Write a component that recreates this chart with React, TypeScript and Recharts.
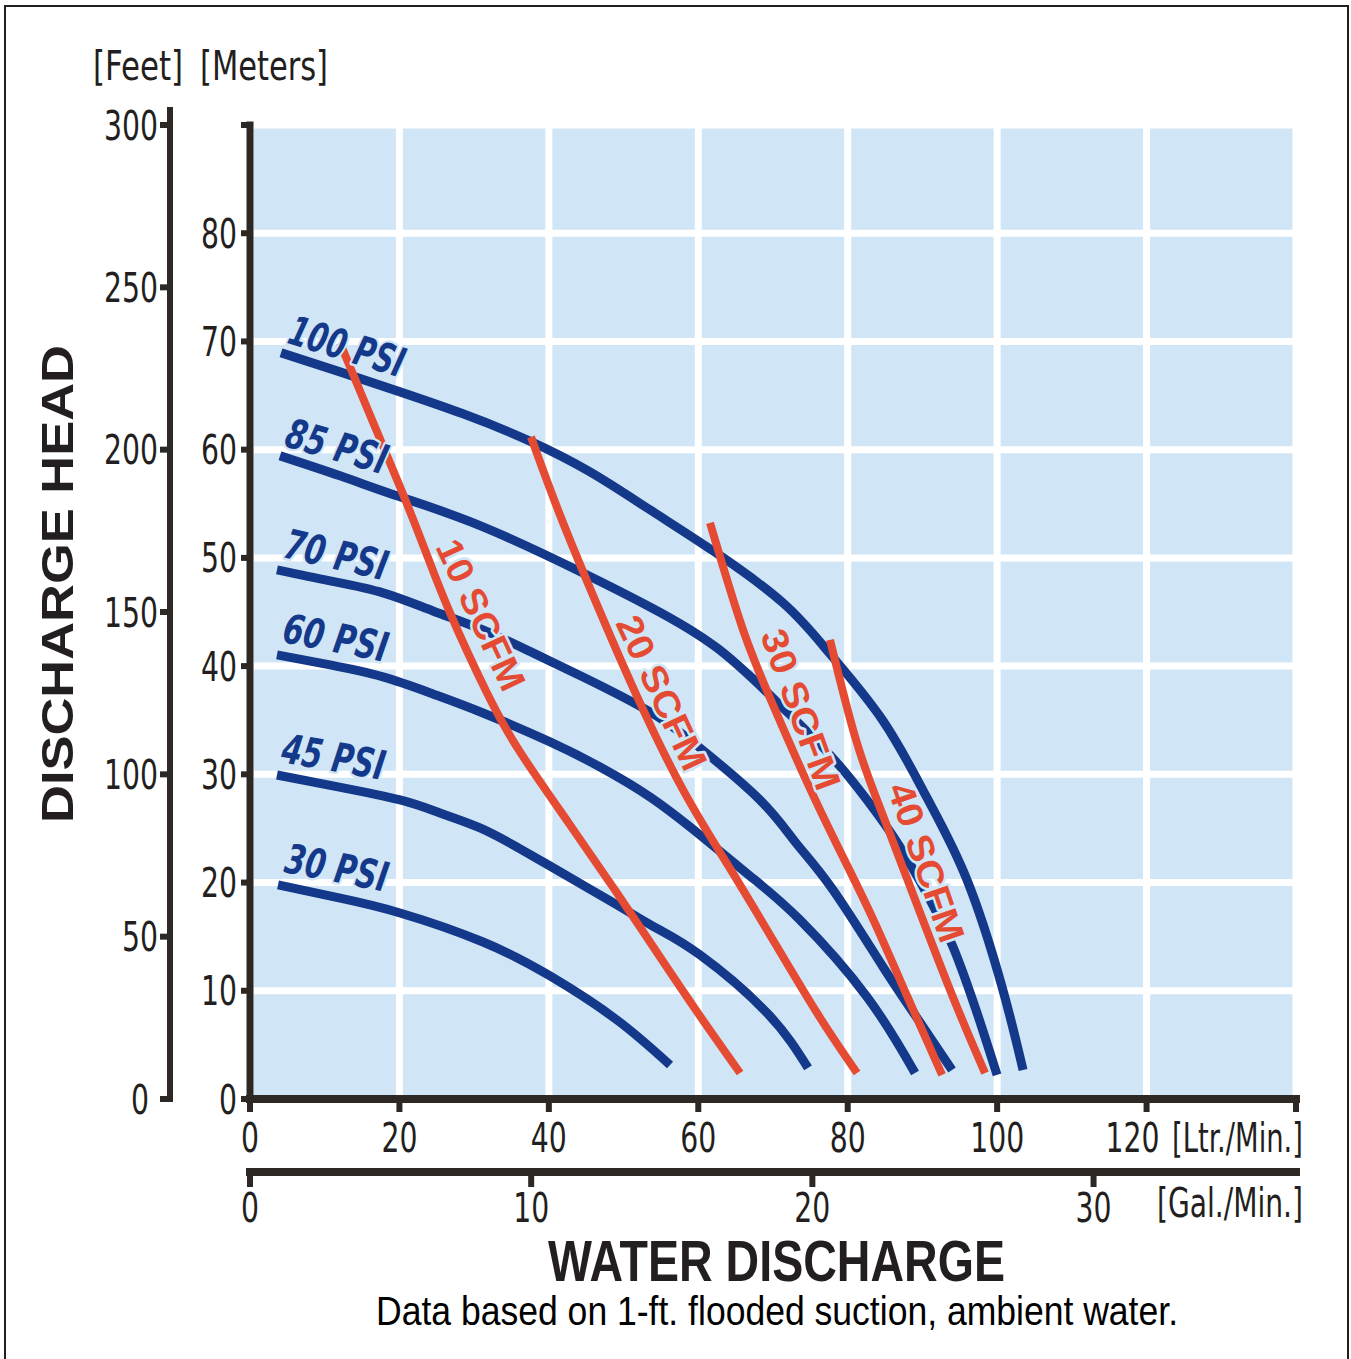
import React from 'react';
import { LineChart, Line, XAxis, YAxis, CartesianGrid } from 'recharts';

const NARROW = '"Liberation Sans Narrow", "Arial Narrow", "Nimbus Sans Narrow", "DejaVu Sans Condensed", "Liberation Sans", Arial, sans-serif';
const SANS = '"Liberation Sans", Arial, Helvetica, sans-serif';

const BG = '#d0e6f6';
const BLUE = '#15398a';
const RED = '#e54b32';
const AXIS = '#2e2825';
const TEXT = '#231f20';

// ---- tick values ----
const flowTicks = [0, 20, 40, 60, 80, 100, 120, 140]; // Ltr./Min.
const galTicks = [0, 10, 20, 30]; // Gal./Min.
const meterTicks = [0, 10, 20, 30, 40, 50, 60, 70, 80, 90];
const feetTicks = [0, 50, 100, 150, 200, 250, 300];

// ---- curves: [flow L/min, head m] ----
const psi100 = [[4.15, 68.95], [12.05, 67.19], [20.08, 65.34], [28.51, 63.31], [37.08, 60.91], [45.51, 57.95], [53.54, 54.44], [61.97, 50.65], [71.34, 45.84], [77.63, 41.13], [84.73, 34.94], [90.62, 27.82], [95.97, 20.24], [100.66, 10.35], [103.47, 2.68]];
const psi85 = [[4.02, 59.43], [12.05, 57.58], [20.08, 55.64], [31.19, 52.87], [44.57, 48.61], [53.54, 45.47], [62.51, 41.68], [70.94, 36.41], [77.63, 31.79], [82.59, 27.63], [87.0, 23.29], [91.02, 18.39], [94.1, 14.05], [97.31, 7.95], [99.99, 2.22]];
const psi70 = [[3.61, 48.89], [10.71, 47.87], [17.8, 46.77], [24.49, 45.1], [31.19, 43.35], [37.88, 41.22], [44.57, 39.0], [53.54, 35.77], [60.23, 32.44], [68.26, 27.63], [73.08, 23.66], [78.03, 19.32], [84.73, 12.2], [89.28, 7.49], [93.96, 2.68]];
const psi60 = [[3.61, 41.04], [10.71, 40.11], [17.8, 39.0], [24.49, 37.43], [31.19, 35.67], [40.16, 33.0], [46.85, 30.68], [53.54, 27.91], [60.23, 24.4], [66.92, 20.61], [73.62, 16.54], [82.59, 9.43], [89.01, 2.4]];
const psi45 = [[3.61, 29.94], [11.78, 28.84], [20.08, 27.63], [25.43, 26.43], [30.79, 25.05], [35.47, 23.38], [40.16, 21.53], [49.12, 17.93], [54.61, 15.71], [60.23, 13.31], [69.2, 7.95], [74.69, 2.87]];
const psi30 = [[3.75, 19.78], [11.91, 18.58], [20.08, 17.19], [31.19, 14.51], [40.16, 11.37], [49.12, 7.3], [56.22, 3.14]];

const scfm10 = [[12.05, 69.87], [16.06, 63.2], [20.08, 56.56], [23.42, 50.74], [26.77, 44.92], [31.72, 37.52], [36.14, 32.07], [42.56, 25.6], [49.12, 19.04], [54.61, 13.4], [60.23, 7.67], [65.59, 2.4]];
const scfm20 = [[37.61, 61.18], [41.49, 53.97], [46.85, 45.01], [52.2, 36.6], [57.96, 28.56], [63.45, 22.18], [69.2, 15.62], [75.89, 7.95], [81.25, 2.4]];
const scfm30 = [[61.57, 53.23], [65.99, 43.35], [70.0, 36.41], [74.29, 29.67], [78.7, 23.29], [83.26, 16.82], [87.94, 9.52], [92.63, 2.22]];
const scfm40 = [[77.63, 42.42], [81.11, 33.18], [84.33, 26.89], [87.81, 20.61], [93.7, 10.07], [98.38, 2.4]];

const psiNames = ['100 PSI', '85 PSI', '70 PSI', '60 PSI', '45 PSI', '30 PSI'];
const psiValues = [psi100, psi85, psi70, psi60, psi45, psi30];
const scfmNames = ['10 SCFM', '20 SCFM', '30 SCFM', '40 SCFM'];
const scfmValues = [scfm10, scfm20, scfm30, scfm40];

// ---- label placement (styles, kept apart from the values) ----
const psiLabelPlace = [
  { at: 0, dx: 5, dy: -10, angle: 17, len: 119 },
  { at: 0, dx: 3, dy: -10, angle: 16, len: 104 },
  { at: 0, dx: 5, dy: -13, angle: 13, len: 105 },
  { at: 0, dx: 4, dy: -13, angle: 11, len: 106 },
  { at: 0, dx: 3, dy: -13, angle: 10, len: 104 },
  { at: 0, dx: 5, dy: -13, angle: 11, len: 104 },
];
const scfmLabelPlace = [
  { at: 3, dx: 10, dy: -3, angle: 65, len: 162 },
  { at: 2, dx: 15, dy: 11, angle: 65, len: 166 },
  { at: 1, dx: 17, dy: 5, angle: 70, len: 168 },
  { at: 2, dx: 7, dy: -20, angle: 71, len: 166 },
];

const toPts = (a: number[][]) => a.map(([x, y]) => ({ x, y }));

function makeLabel(text: string, place: any, kind: 'psi' | 'scfm', pts: { x: number; y: number }[]) {
  return (p: any) => {
    const idx = p.index !== undefined ? p.index : pts.findIndex((d) => d.y === p.value);
    if (idx !== place.at) return null;
    const vb = p.viewBox || {};
    const bx = p.x !== undefined ? p.x : vb.x;
    const by = p.y !== undefined ? p.y : vb.y;
    if (bx === undefined || by === undefined) return null;
    const x = bx + place.dx;
    const y = by + place.dy;
    const common = {
      x,
      y,
      transform: `rotate(${place.angle} ${x} ${y})`,
      stroke: BG,
      strokeWidth: 5,
      paintOrder: 'stroke',
      strokeLinejoin: 'round' as const,
      textLength: place.len,
    };
    if (kind === 'psi') {
      return (
        <text {...common} fill={BLUE} fontFamily={NARROW} fontSize={41} fontWeight="bold" fontStyle="italic" lengthAdjust="spacingAndGlyphs">
          {text}
        </text>
      );
    }
    return (
      <text {...common} fill={RED} fontFamily={SANS} fontSize={37} fontWeight="bold" lengthAdjust="spacingAndGlyphs">
        {text}
      </text>
    );
  };
}

const DIGIT_W = 18;
const tickFont = { fontFamily: NARROW, fontSize: 40, fill: TEXT, lengthAdjust: 'spacingAndGlyphs' };
const numText = (x: number, y: number, dy: number, anchor: string, v: number) => (
  <text x={x} y={y} dy={dy} textAnchor={anchor} textLength={String(v).length * DIGIT_W} {...tickFont}>
    {v}
  </text>
);

const FlowTick = (p: any) => {
  const v = p.payload.value;
  if (v === 140) return null;
  return numText(v === 120 ? p.x - 14 : p.x, p.y, 40, 'middle', v);
};
const GalTick = (p: any) => numText(p.x, p.y, 35, 'middle', p.payload.value);
const MeterTick = (p: any) => {
  const v = p.payload.value;
  if (v === 90) return null;
  return numText(p.x, p.y, 14.5, 'end', v);
};
const FEET_TICK = 10;
const FEET_MARGIN = 2;
const FeetTick = (p: any) => {
  const v = p.payload.value;
  const ax = p.x + FEET_TICK + FEET_MARGIN;
  return (
    <g>
      {v === 300 ? <line x1={ax} x2={ax} y1={p.y - 18} y2={p.y} stroke={AXIS} strokeWidth={6} /> : null}
      {numText(v === 0 ? p.x - 9 : p.x, p.y, 14.5, 'end', v)}
    </g>
  );
};

export default function App() {
  const axisLine = { stroke: AXIS, strokeWidth: 7, strokeLinecap: 'square' };
  const tickLine = { stroke: AXIS, strokeWidth: 6 };
  return (
    <div style={{ position: 'absolute', left: 0, top: 0, width: 1351, height: 1359, overflow: 'hidden', background: '#fff' }}>
      <div
        style={{
          position: 'absolute',
          left: 4,
          top: 5,
          width: 1345,
          height: 1354,
          border: '2px solid #231f20',
          borderBottom: 'none',
          boxSizing: 'border-box',
        }}
      />
      <div style={{ position: 'absolute', left: 0, top: 0 }}>
        <LineChart width={1351} height={1359} margin={{ top: 125, right: 55, left: 90, bottom: 127 }}>
          <CartesianGrid xAxisId="a_flow" yAxisId="a_m" stroke="#ffffff" strokeWidth={7} fill={BG} fillOpacity={1} />
          <XAxis
            xAxisId="b_gal"
            type="number"
            dataKey="x"
            domain={[0, 37.2]}
            ticks={galTicks}
            interval={0}
            height={60}
            allowDataOverflow
            axisLine={{ ...axisLine, strokeWidth: 8 }}
            tickLine={tickLine}
            tickSize={15}
            tickMargin={0}
            tick={GalTick}
          />
          <XAxis
            xAxisId="a_flow"
            type="number"
            dataKey="x"
            domain={[0, 140]}
            ticks={flowTicks}
            interval={0}
            height={73}
            allowDataOverflow
            axisLine={{ ...axisLine, strokeWidth: 8 }}
            tickLine={tickLine}
            tickSize={13}
            tickMargin={0}
            tick={FlowTick}
          />
          <YAxis
            yAxisId="b_ft"
            type="number"
            domain={[0, 300]}
            ticks={feetTicks}
            interval={0}
            width={80}
            allowDataOverflow
            axisLine={{ ...axisLine, strokeWidth: 6 }}
            tickLine={tickLine}
            tickSize={FEET_TICK}
            tickMargin={FEET_MARGIN}
            tick={FeetTick}
          />
          <YAxis
            yAxisId="a_m"
            type="number"
            domain={[0, 90]}
            ticks={meterTicks}
            interval={0}
            width={80}
            allowDataOverflow
            axisLine={axisLine}
            tickLine={tickLine}
            tickSize={9}
            tickMargin={4}
            tick={MeterTick}
          />
          {psiValues.map((vals, i) => {
            const pts = toPts(vals);
            return (
              <Line
                key={psiNames[i]}
                name={psiNames[i]}
                xAxisId="a_flow"
                yAxisId="a_m"
                data={pts}
                dataKey="y"
                type="natural"
                stroke={BLUE}
                strokeWidth={9}
                dot={false}
                activeDot={false}
                isAnimationActive={false}
                label={makeLabel(psiNames[i], psiLabelPlace[i], 'psi', pts)}
              />
            );
          })}
          {scfmValues.map((vals, i) => {
            const pts = toPts(vals);
            return (
              <Line
                key={scfmNames[i]}
                name={scfmNames[i]}
                xAxisId="a_flow"
                yAxisId="a_m"
                data={pts}
                dataKey="y"
                type="natural"
                stroke={RED}
                strokeWidth={8}
                dot={false}
                activeDot={false}
                isAnimationActive={false}
                label={makeLabel(scfmNames[i], scfmLabelPlace[i], 'scfm', pts)}
              />
            );
          })}
        </LineChart>
      </div>
      <svg width={1351} height={1359} style={{ position: 'absolute', left: 0, top: 0, pointerEvents: 'none' }}>
        <text x={93} y={80} fontFamily={NARROW} fontSize={40} fill={TEXT} textLength={90} lengthAdjust="spacingAndGlyphs">[Feet]</text>
        <text x={200} y={80} fontFamily={NARROW} fontSize={40} fill={TEXT} textLength={128} lengthAdjust="spacingAndGlyphs">[Meters]</text>
        <text
          x={73}
          y={584}
          transform="rotate(-90 73 584)"
          textAnchor="middle"
          fontFamily={SANS}
          fontWeight="bold"
          fontSize={44}
          fill={TEXT}
          textLength={478}
          lengthAdjust="spacingAndGlyphs"
        >
          DISCHARGE HEAD
        </text>
        <text x={548} y={1281} fontFamily={SANS} fontWeight="bold" fontSize={57} fill={TEXT} textLength={457} lengthAdjust="spacingAndGlyphs">
          WATER DISCHARGE
        </text>
        <text x={376} y={1325} fontFamily={SANS} fontSize={41} fill="#000" textLength={802} lengthAdjust="spacingAndGlyphs">
          Data based on 1-ft. flooded suction, ambient water.
        </text>
        <text x={1172} y={1152} fontFamily={NARROW} fontSize={40} fill={TEXT} textLength={131} lengthAdjust="spacingAndGlyphs">[Ltr./Min.]</text>
        <text x={1157} y={1217} fontFamily={NARROW} fontSize={40} fill={TEXT} textLength={146} lengthAdjust="spacingAndGlyphs">[Gal./Min.]</text>
      </svg>
    </div>
  );
}
